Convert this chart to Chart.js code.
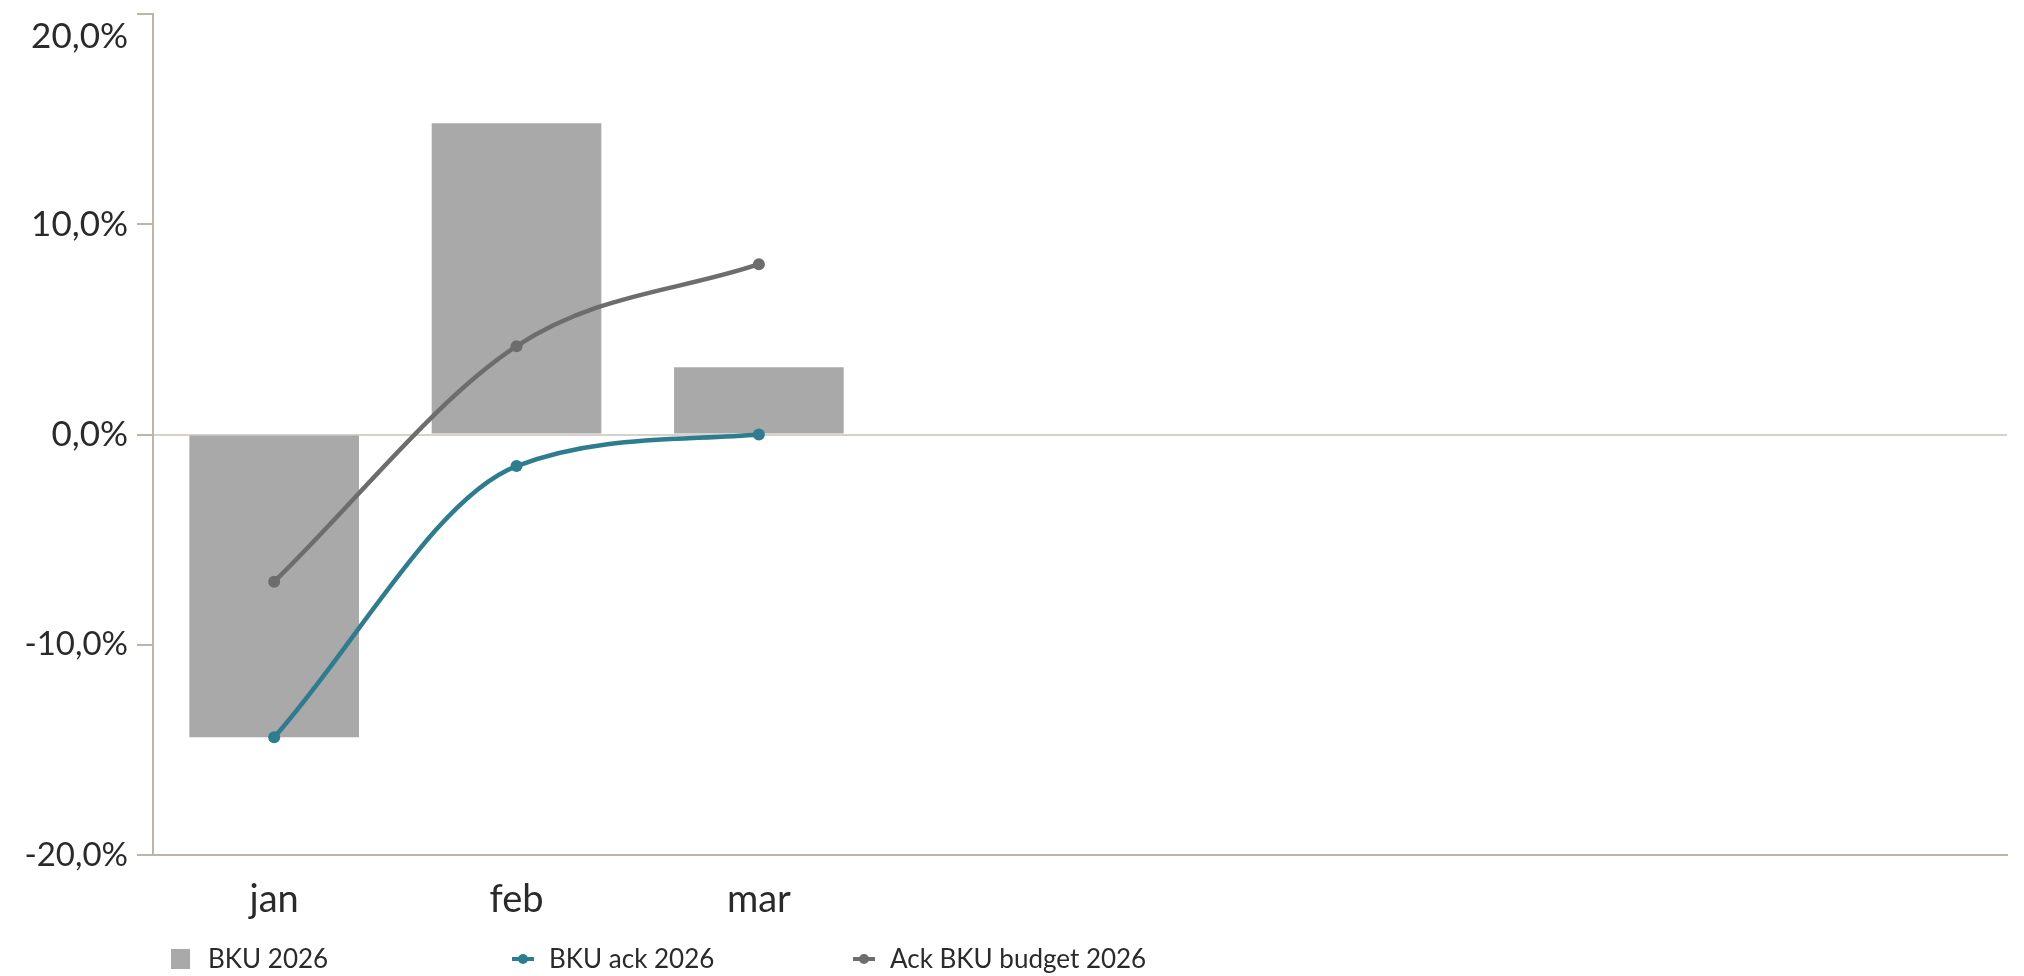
<!DOCTYPE html>
<html>
<head>
<meta charset="utf-8">
<script src="https://cdn.jsdelivr.net/npm/chart.js@4.4.1/dist/chart.umd.min.js"></script>
<style>
html, body { margin: 0; padding: 0; background: #fff; overflow: hidden; }
</style>
</head>
<body>
<canvas id="bkuChart" width="2024" height="976"></canvas>
<script>
const months = ["jan", "feb", "mar"];
const bku = [-14.4, 14.8, 3.2];
const bkuAck = [-14.4, -1.5, 0.0];
const ackBudget = [-7.0, 4.2, 8.1];
const yTicks = [-20, -10, 0, 10, 20];

const axisColor = "#bdb6a8";
const zeroColor = "#d6d1ca";
const textColor = "#2a2a2a";

Chart.defaults.font.family = "Lato";

const pts = vals => vals.map((v, i) => ({ x: i, y: v }));

// keep the topmost y label inside the canvas by pushing it under its tick
const topLabelNudge = {
  id: "topLabelNudge",
  beforeDraw(chart) {
    const items = chart.scales.y.getLabelItems(chart.chartArea);
    if (!items.length || items._nudged) return;
    let top = items[0];
    items.forEach(it => {
      if (it.options.translation[1] < top.options.translation[1]) top = it;
    });
    top.options.translation[1] += 23;
    items._nudged = true;
  }
};

// legend drawn as fixed columns under the axis
const bottomLegend = {
  id: "bottomLegend",
  afterDraw(chart) {
    const ctx = chart.ctx;
    const y = 959;
    ctx.save();
    ctx.font = "26px Lato";
    ctx.textBaseline = "middle";
    chart.data.datasets.forEach((ds, i) => {
      const x = chart.chartArea.left + 18 + i * 341;
      if (ds.type === "bar") {
        ctx.fillStyle = ds.backgroundColor;
        ctx.fillRect(x, y - 10, 19, 20);
      } else {
        ctx.strokeStyle = ds.borderColor;
        ctx.fillStyle = ds.borderColor;
        ctx.lineWidth = 4;
        ctx.beginPath();
        ctx.moveTo(x, y);
        ctx.lineTo(x + 22, y);
        ctx.stroke();
        ctx.beginPath();
        ctx.arc(x + 11, y, 5, 0, Math.PI * 2);
        ctx.fill();
      }
      ctx.fillStyle = textColor;
      ctx.fillText(ds.label, x + 37, y + 1);
    });
    ctx.restore();
  }
};

new Chart(document.getElementById("bkuChart"), {
  type: "bar",
  data: {
    datasets: [
      {
        type: "bar",
        label: "BKU 2026",
        data: pts(bku),
        backgroundColor: "#a9a9a9",
        categoryPercentage: 0.8,
        barPercentage: 0.875,
        order: 3
      },
      {
        type: "line",
        label: "BKU ack 2026",
        data: pts(bkuAck),
        borderColor: "#2e7d8e",
        backgroundColor: "#2e7d8e",
        borderWidth: 4.5,
        pointRadius: 6,
        pointBorderWidth: 0,
        cubicInterpolationMode: "monotone",
        fill: false,
        order: 1
      },
      {
        type: "line",
        label: "Ack BKU budget 2026",
        data: pts(ackBudget),
        borderColor: "#6d6d6d",
        backgroundColor: "#6d6d6d",
        borderWidth: 4.5,
        pointRadius: 6,
        pointBorderWidth: 0,
        cubicInterpolationMode: "monotone",
        fill: false,
        order: 2
      }
    ]
  },
  options: {
    responsive: false,
    animation: false,
    layout: { padding: { left: 18, right: 17, top: 0, bottom: 48 } },
    plugins: {
      legend: { display: false },
      tooltip: { enabled: false }
    },
    scales: {
      x: {
        type: "linear",
        offset: false,
        min: -0.5,
        max: 7.15,
        afterBuildTicks: s => { s.ticks = months.map((m, i) => ({ value: i })); },
        afterFit: s => {
          s.height = 73;
          s.paddingLeft = 0;
          s.paddingRight = 0;
        },
        ticks: {
          callback: v => months[v],
          color: textColor,
          font: { size: 38 },
          padding: 22,
          maxRotation: 0,
          autoSkip: false
        },
        grid: { display: false, drawTicks: false, offset: false },
        border: { color: axisColor, width: 2 }
      },
      y: {
        min: -20,
        max: 20,
        afterBuildTicks: s => { s.ticks = yTicks.map(v => ({ value: v })); },
        afterFit: s => {
          s.width = 135;
          s.paddingTop = 14;
          s.paddingBottom = 0;
        },
        ticks: {
          callback: v => v.toFixed(1).replace(".", ",") + "%",
          color: textColor,
          font: c => ({ size: c.tick && c.tick.value < 0 ? 33 : 35 }),
          padding: 9
        },
        grid: {
          color: c => (c.tick && c.tick.value === 0 ? zeroColor : "rgba(0,0,0,0)"),
          tickColor: axisColor,
          tickLength: 16,
          lineWidth: 2
        },
        border: { color: axisColor, width: 2 }
      }
    }
  },
  plugins: [topLabelNudge, bottomLegend]
});
</script>
</body>
</html>
